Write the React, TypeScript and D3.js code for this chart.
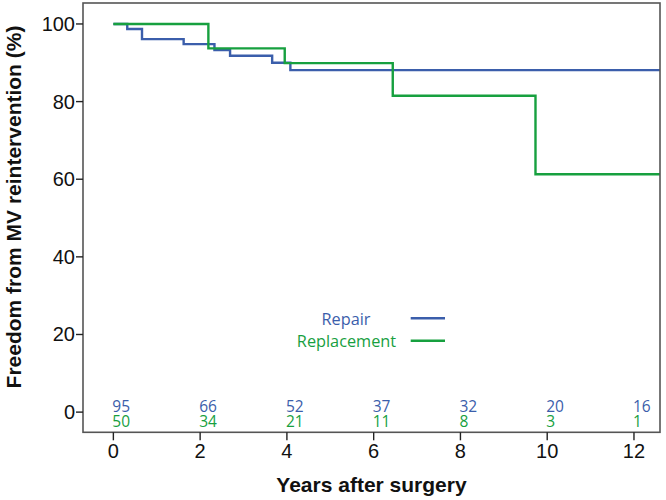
import React from "react";
import * as d3 from "d3";

// Kaplan-Meier step data: [years, freedom %]
const repairTimes = [0, 0.32, 0.66, 1.62, 2.33, 2.69, 3.66, 4.08];
const repairValues = [100, 98.7, 96.1, 94.8, 93.3, 91.8, 90.0, 88.1];
const replacementTimes = [0, 2.19, 3.95, 6.44, 9.73];
const replacementValues = [100, 93.7, 89.9, 81.5, 61.3];

const xTicks = [0, 2, 4, 6, 8, 10, 12];
const yTicks = [0, 20, 40, 60, 80, 100];
const riskRepair = [95, 66, 52, 37, 32, 20, 16];
const riskReplacement = [50, 34, 21, 11, 8, 3, 1];

const seriesNames = ["Repair", "Replacement"];

const BLUE = "#3b5eab";
const GREEN = "#17a03f";

export default function App() {
  const W = 666, H = 500;
  const left = 83, right = 660, top = 3, bottom = 432.3;
  const xEnd = 12.6;
  const x = d3.scaleLinear().domain([-0.7, xEnd]).range([left, right]);
  const y = d3.scaleLinear().domain([-5.2, 105.4]).range([bottom, top]);

  const line = d3
    .line<[number, number]>()
    .x((d) => x(d[0]))
    .y((d) => y(d[1]))
    .curve(d3.curveStepAfter);

  const mk = (ts: number[], vs: number[]) => {
    const pts: [number, number][] = ts.map((t, i) => [t, vs[i]]);
    pts.push([xEnd, vs[vs.length - 1]]);
    return line(pts) || "";
  };

  const axisFont = "Liberation Sans, Arial, sans-serif";
  const labelFont = "Open Sans, sans-serif";

  return (
    <svg width={W} height={H} style={{ position: "absolute", left: 0, top: 0, background: "#fff" }}>
      {/* lines */}
      <path d={mk(repairTimes, repairValues)} fill="none" stroke={BLUE} strokeWidth={2.4} />
      <path d={mk(replacementTimes, replacementValues)} fill="none" stroke={GREEN} strokeWidth={2.4} />

      {/* frame */}
      <rect x={left} y={top} width={right - left} height={bottom - top} fill="none" stroke="#555" strokeWidth={1.6} />

      {/* y ticks */}
      {yTicks.map((v) => (
        <g key={"y" + v}>
          <line x1={left - 7} x2={left} y1={y(v)} y2={y(v)} stroke="#222" strokeWidth={1.4} />
          <text x={left - 8} y={y(v)} dy="0.35em" textAnchor="end" fontFamily={axisFont} fontSize={20} fill="#111">
            {v}
          </text>
        </g>
      ))}

      {/* x ticks */}
      {xTicks.map((v) => (
        <g key={"x" + v}>
          <line x1={x(v)} x2={x(v)} y1={bottom} y2={bottom + 8} stroke="#222" strokeWidth={1.4} />
          <text x={x(v)} y={458} textAnchor="middle" fontFamily={axisFont} fontSize={20} fill="#111">
            {v}
          </text>
        </g>
      ))}

      {/* numbers at risk */}
      {xTicks.map((v, i) => (
        <g key={"r" + v}>
          <text x={x(v) - 1} y={411.5} fontFamily={labelFont} fontSize={15.5} fill={BLUE}>
            {riskRepair[i]}
          </text>
          <text x={x(v) - 1} y={426.5} fontFamily={labelFont} fontSize={15.5} fill={GREEN}>
            {riskReplacement[i]}
          </text>
        </g>
      ))}

      {/* legend */}
      <text x={346} y={325} textAnchor="middle" fontFamily={labelFont} fontSize={16.3} fill={BLUE}>
        {seriesNames[0]}
      </text>
      <line x1={410.7} x2={445} y1={318.3} y2={318.3} stroke={BLUE} strokeWidth={2.4} />
      <text x={346.5} y={346.7} textAnchor="middle" fontFamily={labelFont} fontSize={16.3} fill={GREEN}>
        {seriesNames[1]}
      </text>
      <line x1={410.7} x2={445} y1={340.7} y2={340.7} stroke={GREEN} strokeWidth={2.4} />

      {/* axis titles */}
      <text x={(left + right) / 2} y={492} textAnchor="middle" fontFamily={axisFont} fontWeight="bold" fontSize={21} fill="#111">
        Years after surgery
      </text>
      <text
        transform={`translate(21,207) rotate(-90)`}
        textAnchor="middle"
        fontFamily={axisFont}
        fontWeight="bold"
        fontSize={21}
        fill="#111"
      >
        Freedom from MV reintervention (%)
      </text>
    </svg>
  );
}
